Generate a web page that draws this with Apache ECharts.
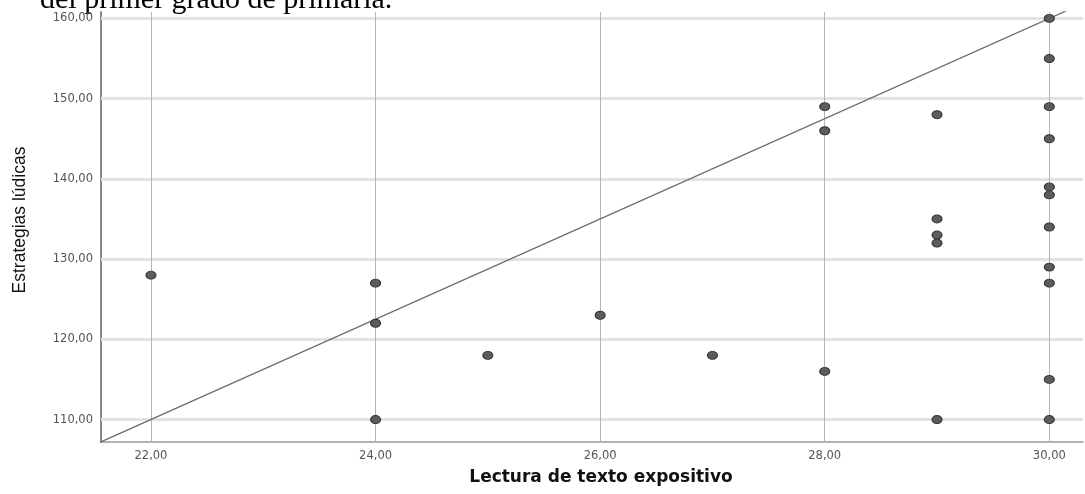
<!DOCTYPE html>
<html>
<head>
<meta charset="utf-8">
<script src="https://cdn.jsdelivr.net/npm/echarts@6/dist/echarts.min.js"></script>
<style>html,body{margin:0;padding:0;background:#fff;}#c{width:1085px;height:494px;}</style>
</head>
<body>
<div id="c"></div>
<script>
// Data
const xValues = [22, 24, 24, 24, 25, 26, 27, 28, 28, 28, 29, 29, 29, 29, 29, 30, 30, 30, 30, 30, 30, 30, 30, 30, 30, 30];
const yValues = [128, 127, 122, 110, 118, 123, 118, 149, 146, 116, 148, 135, 133, 132, 110, 160, 155, 149, 145, 139, 138, 134, 129, 127, 115, 110];
const lineX = [21.5, 30.4];
const lineY = [106.875, 162.5];
const xTicks = [22, 24, 26, 28, 30];
const yTicks = [110, 120, 130, 140, 150, 160];
const xTitle = 'Lectura de texto expositivo';
const yTitle = 'Estrategias lúdicas';
const topText = 'del primer grado de primaria.';

const fmt = v => v.toFixed(2).replace('.', ',');
const points = xValues.map((x, i) => [x, yValues[i]]);
const lineData = lineX.map((x, i) => [x, lineY[i]]);

const chart = echarts.init(document.getElementById('c'), null, {renderer: 'canvas'});
chart.setOption({
  animation: false,
  backgroundColor: '#fff',
  grid: {left: 101, right: 2, top: 12, bottom: 52},
  xAxis: {
    type: 'value', min: 21.555, max: 30.3,
    axisLine: {show: true, onZero: false, lineStyle: {color: '#9a9a9a', width: 1.5}},
    axisTick: {show: false},
    splitLine: {show: false},
    axisLabel: {
      customValues: xTicks, formatter: fmt, color: '#555',
      fontFamily: 'DejaVu Sans', fontSize: 11.5, margin: 8
    }
  },
  yAxis: {
    type: 'value', min: 107.2, max: 160.8,
    axisLine: {show: true, onZero: false, lineStyle: {color: '#888', width: 2}},
    axisTick: {show: false},
    splitLine: {show: false},
    axisLabel: {
      customValues: yTicks, formatter: fmt, color: '#555',
      fontFamily: 'DejaVu Sans', fontSize: 11.5, margin: 8
    }
  },
  graphic: [
    {type: 'text', left: 40, top: -15, style: {text: topText, font: '30px "Liberation Serif"', fill: '#000'}},
    {type: 'text', x: 601, y: 478, style: {text: xTitle, font: 'bold 17px "DejaVu Sans"', fill: '#111', align: 'center', verticalAlign: 'middle'}},
    {type: 'text', x: 20, y: 220, rotation: Math.PI / 2, style: {text: yTitle, font: '17.5px "Liberation Sans Narrow", "Liberation Sans"', fill: '#111', align: 'center', verticalAlign: 'middle'}}
  ],
  series: [
    {
      type: 'scatter', z: 1, silent: true, data: [],
      markLine: {
        z: 1, silent: true, symbol: 'none', label: {show: false}, animation: false,
        lineStyle: {color: '#e2e2e2', width: 3, type: 'solid'},
        data: yTicks.map(v => ({yAxis: v}))
      }
    },
    {
      type: 'scatter', z: 2, silent: true, data: [],
      markLine: {
        z: 2, silent: true, symbol: 'none', label: {show: false}, animation: false,
        lineStyle: {color: '#b4b4b4', width: 1, type: 'solid'},
        data: xTicks.map(v => ({xAxis: v}))
      }
    },
    {
      type: 'line', z: 3, data: lineData, showSymbol: false, symbol: 'none', clip: true,
      lineStyle: {color: '#6e6e6e', width: 1.3}
    },
    {
      type: 'scatter', z: 10, data: points, symbol: 'circle', symbolSize: [10, 8],
      itemStyle: {color: '#5c5c5c', borderColor: '#333', borderWidth: 1, opacity: 1}
    }
  ]
});
</script>
</body>
</html>
